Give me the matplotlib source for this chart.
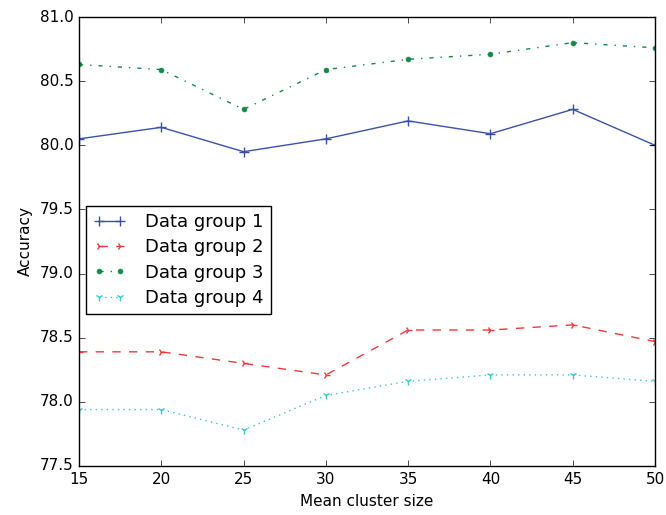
import matplotlib
matplotlib.use("Agg")
from matplotlib import pyplot as plt

plt.style.use("classic")

cluster_size = [15, 20, 25, 30, 35, 40, 45, 50]
group1 = [80.05, 80.14, 79.95, 80.05, 80.19, 80.09, 80.28, 80.00]
group2 = [78.39, 78.39, 78.30, 78.21, 78.56, 78.56, 78.60, 78.47]
group3 = [80.63, 80.59, 80.28, 80.59, 80.67, 80.71, 80.80, 80.76]
group4 = [77.94, 77.94, 77.78, 78.05, 78.16, 78.21, 78.21, 78.16]

fig = plt.figure(figsize=(6.66, 5.15), dpi=100, facecolor="white")
ax = fig.add_axes([79/666, 49/515, 576/666, 449/515])

ax.plot(cluster_size, group1, "+-", color="#3b50a8", label="Data group 1", mew=1, ms=7)
ax.plot(cluster_size, group2, "4--", color="#ee3a3a", label="Data group 2", mew=1, ms=6)
ax.plot(cluster_size, group3, ".-.", color="#148a48", label="Data group 3", ms=7)
ax.plot(cluster_size, group4, "1:", color="#3cc8c8", label="Data group 4", mew=1, ms=6)

ax.set_xlim(15, 50)
ax.set_ylim(77.5, 81.0)
ax.set_xlabel("Mean cluster size", fontsize=11)
ax.set_ylabel("Accuracy", fontsize=11)
ax.tick_params(labelsize=11)

ax.legend(loc="upper left", fontsize=13, numpoints=2, handlelength=1.8,
          handletextpad=1.1, bbox_to_anchor=(0.012, 0.579), borderaxespad=0,
          labelspacing=0.4)

fig.savefig("out.png", dpi=100, facecolor="white")
